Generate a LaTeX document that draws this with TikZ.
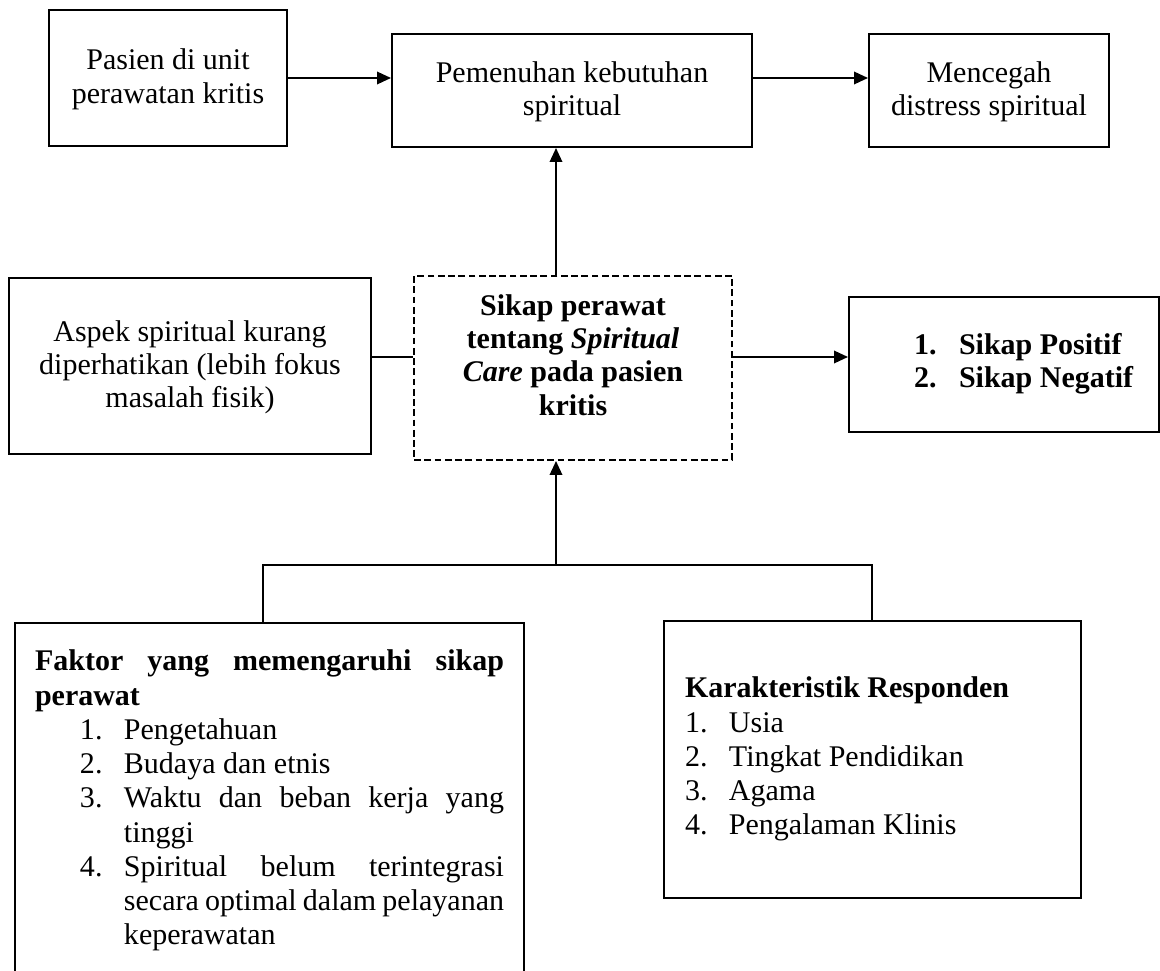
\documentclass[tikz,border=0pt]{standalone}
\usepackage{fontspec}
\setmainfont{Liberation Serif}
\usetikzlibrary{arrows.meta}
\newlength\pxu
\setlength\pxu{0.4pt}
\newcommand{\itemnum}[1]{\leavevmode\llap{\makebox[44\pxu][l]{#1}}}
\begin{document}
\begin{tikzpicture}[x=0.4pt,y=-0.4pt,
  box/.style={draw, line width=0.8pt, inner sep=0pt,
    font=\fontsize{12pt}{13.3pt}\selectfont},
  tbox/.style={box, align=center},
  dbox/.style={box, dashed, dash pattern=on 2.7pt off 1.4pt},
  conn/.style={line width=0.75pt},
  arr/.style={conn, -{Triangle[length=5.6pt,width=5pt]}}]
\useasboundingbox (0,0) rectangle (1160,971);
\clip (0,0) rectangle (1160,971);

\node[tbox, minimum width=238\pxu, minimum height=136\pxu] (b1) at (168,78) {\strut Pasien di unit\\perawatan kritis};
\node[tbox, minimum width=360\pxu, minimum height=113\pxu] (b2) at (572,90.5) {\strut Pemenuhan kebutuhan\\spiritual};
\node[tbox, minimum width=240\pxu, minimum height=113\pxu] (b3) at (989,90.5) {\strut Mencegah\\distress spiritual};
\node[tbox, minimum width=362\pxu, minimum height=176\pxu] (b4) at (190,366) {\strut Aspek spiritual kurang\\diperhatikan (lebih fokus\\masalah fisik)};
\node[dbox, minimum width=318\pxu, minimum height=184\pxu] (dash) at (573,368)
  {\parbox[c][184\pxu][t]{318\pxu}{\centering\bfseries\vspace*{16\pxu}\strut Sikap perawat\\
   tentang \textit{Spiritual}\\ \textit{Care} pada pasien\\ kritis}};
\node[box, minimum width=310\pxu, minimum height=135\pxu] (b5) at (1004,364.5)
  {\parbox{310\pxu}{\bfseries\hspace*{65\pxu}\raisebox{-3\pxu}{\begin{tabular}{@{}p{45\pxu}@{}l@{}}1.&Sikap Positif\\2.&Sikap Negatif\end{tabular}}}};
\node[box, minimum width=509\pxu, minimum height=420\pxu] (b6) at (269.5,833)
  {\parbox[c][420\pxu][t]{509\pxu}{\fontsize{12pt}{13.7pt}\selectfont
   \tolerance=10000 \hyphenpenalty=10000 \parindent=0pt
   \vspace*{24\pxu}\leftskip=20\pxu \rightskip=20\pxu
   \strut\textbf{Faktor yang memengaruhi sikap\linebreak perawat}\par
   \leftskip=109\pxu
   \itemnum{1.}Pengetahuan\par
   \itemnum{2.}Budaya dan etnis\par
   \itemnum{3.}Waktu dan beban kerja yang\linebreak tinggi\par
   \itemnum{4.}Spiritual belum terintegrasi\linebreak secara optimal dalam pelayanan\linebreak keperawatan\par}};
\node[box, minimum width=417\pxu, minimum height=277\pxu] (b7) at (872.5,759.5)
  {\parbox{417\pxu}{\fontsize{12pt}{13.7pt}\selectfont\hspace*{21\pxu}\raisebox{-4\pxu}{\begin{tabular}{@{}p{44\pxu}@{}l@{}}
   \multicolumn{2}{@{}l@{}}{\textbf{Karakteristik Responden}}\\
   1.&Usia\\2.&Tingkat Pendidikan\\3.&Agama\\4.&Pengalaman Klinis\end{tabular}}}};

\coordinate (vx) at (556,0);
\coordinate (hy) at (0,357);
\coordinate (jl) at (263,565);
\coordinate (jc) at (556,565);
\coordinate (jr) at (872,565);

\draw[arr] (b1.east) -- (b1.east -| b2.west);
\draw[arr] (b1.east -| b2.east) -- (b1.east -| b3.west);
\draw[arr] (vx |- dash.north) -- (vx |- b2.south);
\draw[conn] (b4.east |- hy) -- (dash.west |- hy);
\draw[arr] (dash.east |- hy) -- (b5.west |- hy);
\draw[arr] (jc) -- (jc |- dash.south);
\draw[conn] (jl |- b6.north) -- (jl) -- (jr) -- (jr |- b7.north);
\end{tikzpicture}
\end{document}
